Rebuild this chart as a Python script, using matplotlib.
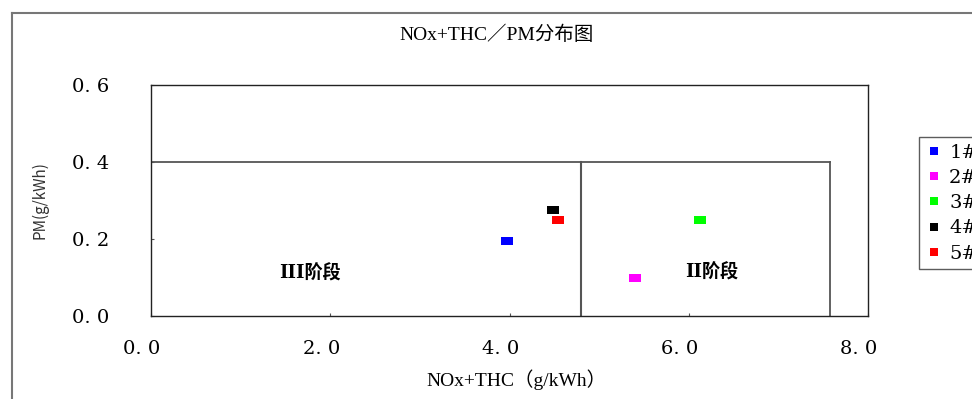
import matplotlib
matplotlib.use('Agg')
import matplotlib.pyplot as plt
import matplotlib.transforms as mtransforms
from matplotlib.lines import Line2D
from matplotlib.path import Path

plt.rcParams['font.family'] = ['Noto Sans CJK SC', 'DejaVu Sans']

# 排放测试点 (NOx+THC, PM)
labels = ['1#', '2#', '3#', '4#', '5#']
nox_thc = [3.97, 5.40, 6.13, 4.49, 4.54]
pm = [0.195, 0.10, 0.25, 0.275, 0.25]
colors = ['#0000ff', '#ff00ff', '#00ff00', '#000000', '#ff0000']

# 阶段限值边界
stage3_nox = 4.8
stage2_nox = 7.58
pm_limit = 0.4

xticks = [0, 2, 4, 6, 8]
yticks = [0, 0.2, 0.4, 0.6]

serif = ['DejaVu Serif', 'Noto Sans CJK SC']
serif_cjk = ['Liberation Serif', 'Noto Sans CJK SC']

fig = plt.figure(figsize=(9.72, 3.99), dpi=100)
ax = fig.add_axes([151 / 972, 1 - 316 / 399, 717 / 972, 231 / 399])

rect = Path([(-1, -0.72), (1, -0.72), (1, 0.72), (-1, 0.72), (-1, -0.72)],
            [Path.MOVETO, Path.LINETO, Path.LINETO, Path.LINETO, Path.CLOSEPOLY])

for x, y, c, lab in zip(nox_thc, pm, colors, labels):
    ax.plot([x], [y], linestyle='none', marker=rect, markersize=8,
            color=c, markeredgewidth=0, label=lab, zorder=3)

# 限值框
ax.plot([0, stage2_nox], [pm_limit, pm_limit], color='#555555', lw=1.3, zorder=2)
ax.plot([stage3_nox, stage3_nox], [0, pm_limit], color='#555555', lw=1.5, zorder=2)
ax.plot([stage2_nox, stage2_nox], [0, pm_limit], color='#555555', lw=1.3, zorder=2)

ax.text(1.77, 0.112, 'III阶段', fontsize=13, fontweight='bold',
        ha='center', va='center', family=serif)
ax.text(6.26, 0.114, 'II阶段', fontsize=13, fontweight='bold',
        ha='center', va='center', family=serif)

ax.set_xlim(0, 8)
ax.set_ylim(0, 0.6)
ax.set_xticks(xticks)
ax.set_yticks(yticks)
ax.set_xticklabels([f'{v:.1f}'.replace('.', '. ') for v in xticks],
                   family=serif, fontsize=14)
ax.set_yticklabels([f'{v:.1f}'.replace('.', '. ') for v in yticks],
                   family=serif, fontsize=14)
ax.tick_params(direction='in', length=2, width=0.8, color='#555555')
ax.tick_params(axis='x', pad=17)
ax.tick_params(axis='y', pad=30)
# x 刻度标签整体略向左偏
shift = mtransforms.ScaledTranslation(-9 / 100, 0, fig.dpi_scale_trans)
for t in ax.get_xticklabels():
    t.set_transform(t.get_transform() + shift)
for s in ax.spines.values():
    s.set_linewidth(1.0)
    s.set_color('#222222')

fig.text(516 / 972, 1 - 380 / 399, 'NOx+THC（g/kWh）', fontsize=14,
         ha='center', va='center', family=serif_cjk)
fig.text(40 / 972, 1 - 200 / 399, 'PM(g/kWh)', fontsize=11, rotation=90,
         ha='center', va='center', color='#333333')
fig.text(497 / 972, 1 - 35 / 399, 'NOx+THC／PM分布图', fontsize=14,
         ha='center', va='center', family=serif_cjk)

# 图表区外框
fig.add_artist(Line2D([12 / 972, 12 / 972], [0, 1 - 13 / 399],
                      transform=fig.transFigure, color='#777777', lw=1.5))
fig.add_artist(Line2D([12 / 972, 1], [1 - 13 / 399, 1 - 13 / 399],
                      transform=fig.transFigure, color='#777777', lw=1.5))

handles = [Line2D([], [], linestyle='none', marker='s', markersize=6,
                  color=c, markeredgewidth=0) for c in colors]
leg = fig.legend(handles, labels, loc='upper left',
                 bbox_to_anchor=(919 / 972, 1 - 137 / 399),
                 prop={'family': serif, 'size': 14}, frameon=True,
                 fancybox=False, borderaxespad=0, labelspacing=0.37,
                 handlelength=0.8, handletextpad=0.4, borderpad=0.35)
leg.get_frame().set_edgecolor('#333333')
leg.get_frame().set_linewidth(1.0)

fig.savefig('out.png', dpi=100)
